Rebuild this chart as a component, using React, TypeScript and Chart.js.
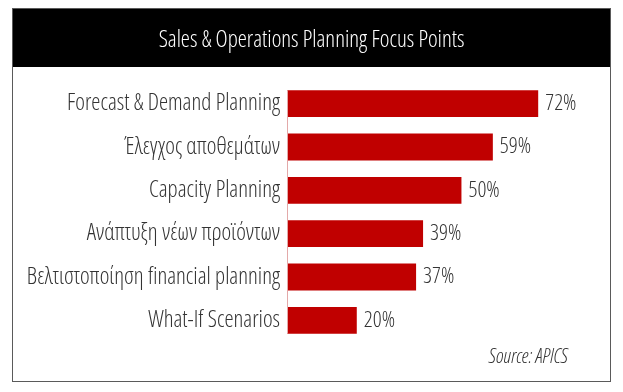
import React, { useEffect, useRef } from "react";
import { Chart, registerables } from "chart.js";

Chart.register(...registerables);

const categories = [
  "Forecast & Demand Planning",
  "Έλεγχος αποθεμάτων",
  "Capacity Planning",
  "Ανάπτυξη νέων προϊόντων",
  "Βελτιστοποίηση financial planning",
  "What-If Scenarios",
];
const values = [72, 59, 50, 39, 37, 20];
const titleText = "Sales & Operations Planning Focus Points";
const sourceText = "Source: APICS";

const FAMILY = "'Open Sans', 'Noto Sans', sans-serif";
const LIGHT = "300 condensed";

const framePlugin = {
  id: "frame",
  beforeDraw(chart: any) {
    const ctx = chart.ctx;
    ctx.save();
    ctx.fillStyle = "#ffffff";
    ctx.fillRect(0, 0, chart.width, chart.height);
    ctx.fillStyle = "#000000";
    ctx.fillRect(12, 8, 599, 59);
    ctx.strokeStyle = "#5a5a5a";
    ctx.lineWidth = 1;
    ctx.strokeRect(12.5, 8.5, 598, 373);
    ctx.restore();
  },
  afterDatasetsDraw(chart: any) {
    const ctx = chart.ctx;
    const meta = chart.getDatasetMeta(0);
    const bars = meta.data;
    ctx.save();
    // thin axis line along the bars' base
    if (bars.length) {
      const first = bars[0];
      const last = bars[bars.length - 1];
      const x0 = Math.round(first.base) + 0.5;
      ctx.strokeStyle = "#e3a9a9";
      ctx.lineWidth = 1;
      ctx.beginPath();
      ctx.moveTo(x0, first.y - first.height / 2);
      ctx.lineTo(x0, last.y + last.height / 2);
      ctx.stroke();
    }
    ctx.font = `${LIGHT} 22px ${FAMILY}`;
    ctx.fillStyle = "#333333";
    ctx.textAlign = "left";
    ctx.textBaseline = "middle";
    bars.forEach((bar: any, i: number) => {
      ctx.fillText(`${values[i]}%`, bar.x + 7, bar.y);
    });
    ctx.restore();
  },
  afterDraw(chart: any) {
    const ctx = chart.ctx;
    ctx.save();
    ctx.font = `italic ${LIGHT} 20px ${FAMILY}`;
    ctx.fillStyle = "#333333";
    ctx.textAlign = "right";
    ctx.textBaseline = "middle";
    ctx.fillText(sourceText, 568, 357);
    ctx.restore();
  },
};

export default function App() {
  const ref = useRef<HTMLCanvasElement | null>(null);
  useEffect(() => {
    if (!ref.current) return;
    const chart = new Chart(ref.current, {
      type: "bar",
      data: {
        labels: categories,
        datasets: [
          {
            data: values,
            backgroundColor: "#c00000",
            barPercentage: 0.62,
            categoryPercentage: 1,
          },
        ],
      },
      options: {
        indexAxis: "y",
        animation: false,
        responsive: false,
        devicePixelRatio: 1,
        layout: { padding: { left: 22, right: 22, top: 0, bottom: 50 } },
        plugins: {
          legend: { display: false },
          tooltip: { enabled: false },
          title: {
            display: true,
            text: titleText,
            color: "#ffffff",
            font: { family: FAMILY, size: 23, weight: LIGHT as any },
            padding: { top: 26.5, bottom: 27.9 },
          },
        },
        scales: {
          x: { type: "linear", min: 0, max: 90, display: false },
          y: {
            type: "category",
            grid: { display: false, drawTicks: false },
            border: { display: false },
            ticks: {
              padding: 7,
              color: "#333333",
              font: { family: FAMILY, size: 23, weight: LIGHT as any },
            },
            afterFit(scale: any) {
              scale.width = 265;
            },
          },
        },
      },
      plugins: [framePlugin],
    });
    return () => chart.destroy();
  }, []);
  return (
    <div style={{ position: "absolute", left: 0, top: 0, width: 623, height: 392 }}>
      <canvas ref={ref} width={623} height={392} />
    </div>
  );
}
